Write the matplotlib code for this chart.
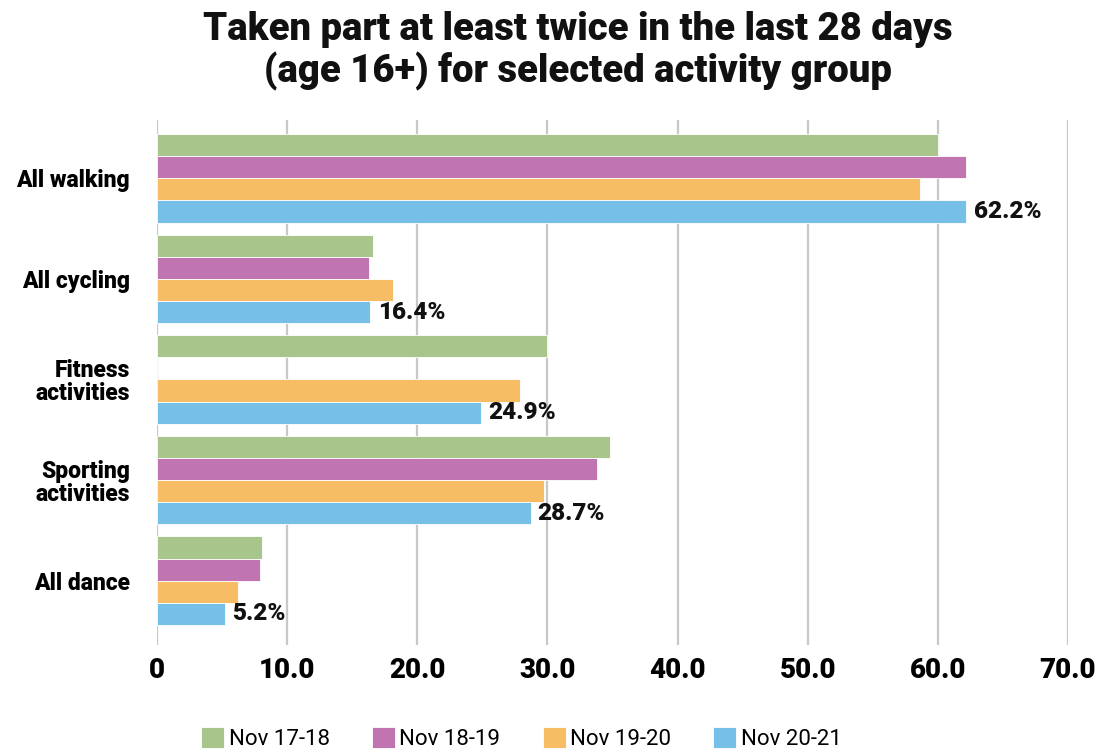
import matplotlib
matplotlib.use("Agg")
import matplotlib.pyplot as plt
import numpy as np

categories = ["All walking", "All cycling", "Fitness\nactivities", "Sporting\nactivities", "All dance"]
series_names = ["Nov 17-18", "Nov 18-19", "Nov 19-20", "Nov 20-21"]
nov_17_18 = [60.0, 16.6, 30.0, 34.8, 8.1]
nov_18_19 = [62.2, 16.3, 0.0, 33.8, 7.9]
nov_19_20 = [58.6, 18.1, 27.9, 29.7, 6.2]
nov_20_21 = [62.2, 16.4, 24.9, 28.7, 5.2]
x_ticks = [0, 10, 20, 30, 40, 50, 60, 70]
x_tick_labels = ["0", "10.0", "20.0", "30.0", "40.0", "50.0", "60.0", "70.0"]

colors = ["#a8c68c", "#c075b0", "#f6bd64", "#76bfe6"]
plt.rcParams['font.family'] = ['Roboto', 'DejaVu Sans']

fig = plt.figure(figsize=(11.07, 7.52), dpi=100)
ax = fig.add_axes([157/1107, 107/752, (1068-157)/1107, 525/752])

y = np.arange(len(categories))
h = 0.22
series = [nov_17_18, nov_18_19, nov_19_20, nov_20_21]
for i, (vals, c, name) in enumerate(zip(series, colors, series_names)):
    offs = (i - 1.5) * h
    ax.barh(y + offs, vals, height=h, color=c, edgecolor='white', linewidth=0.6,
            label=name, zorder=3)

for yi, v in zip(y, nov_20_21):
    ax.text(v + 0.55, yi + 1.5 * h, f"{v:.1f}%", va='center', ha='left',
            fontsize=17.5, fontweight='heavy', color='#111111', zorder=4)

ax.set_xlim(0, 70)
ax.set_ylim(4.64, -0.58)
ax.set_xticks(x_ticks)
ax.set_xticklabels(x_tick_labels, fontsize=20, fontweight='heavy')
ax.set_yticks(y)
ax.set_yticklabels(categories, fontsize=16.5, fontweight='heavy', linespacing=1.0)
ax.tick_params(axis='both', length=0)
ax.tick_params(axis='x', pad=9)
ax.tick_params(axis='y', pad=19.5)
ax.xaxis.grid(True, color='#c8c8c8', linewidth=1.6, zorder=0)
for s in ax.spines.values():
    s.set_visible(False)

fig.suptitle("Taken part at least twice in the last 28 days\n(age 16+) for selected activity group",
             x=0.522, y=0.985, fontsize=27.5, fontweight='heavy', linespacing=1.12, color='#111111')

leg = fig.legend(loc='center', bbox_to_anchor=(0.471, 0.0175), ncol=4, frameon=False,
                 prop={'family': ['Roboto', 'DejaVu Sans'], 'size': 16}, handlelength=1.04,
                 handleheight=1.08, columnspacing=1.9, handletextpad=0.2)

fig.savefig("out.png", dpi=100)
